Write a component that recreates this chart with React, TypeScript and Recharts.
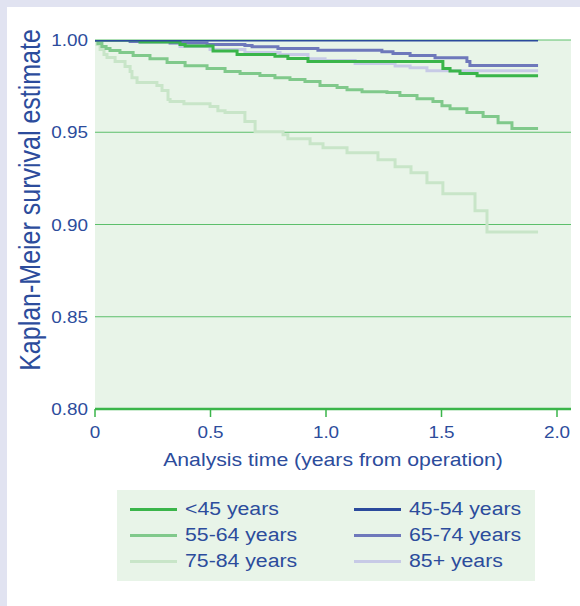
import { LineChart, Line, XAxis, YAxis, CartesianGrid } from 'recharts';

// time in years, survival estimate
const tUnder45 = [0, 0.195, 0.368, 0.39, 0.511, 0.615, 0.779, 0.835, 0.922, 1.506, 1.537, 1.58, 1.654, 1.918];
const sUnder45 = [1, 0.9989, 0.9976, 0.9967, 0.994, 0.9921, 0.9912, 0.99, 0.9883, 0.9845, 0.9832, 0.9818, 0.9806, 0.9806];

const t45to54 = [0, 1.918];
const s45to54 = [1, 1];

const t55to64 = [0, 0.013, 0.03, 0.048, 0.065, 0.108, 0.165, 0.238, 0.312, 0.39, 0.485, 0.563, 0.628, 0.714, 0.779, 0.844, 0.909, 0.974, 1.048, 1.091, 1.156, 1.264, 1.32, 1.394, 1.463, 1.502, 1.537, 1.61, 1.68, 1.745, 1.805, 1.918];
const s55to64 = [1, 0.9981, 0.9965, 0.9954, 0.9943, 0.9932, 0.9916, 0.9899, 0.9878, 0.9861, 0.9845, 0.9829, 0.9818, 0.9807, 0.9796, 0.9786, 0.9775, 0.9753, 0.9742, 0.9731, 0.972, 0.9715, 0.9699, 0.9682, 0.9666, 0.9644, 0.9628, 0.9607, 0.9585, 0.9552, 0.952, 0.952];

const t65to74 = [0, 0.152, 0.325, 0.485, 0.649, 0.68, 0.792, 0.965, 1.242, 1.29, 1.364, 1.472, 1.61, 1.623, 1.918];
const s65to74 = [1, 0.9992, 0.9984, 0.9976, 0.997, 0.9963, 0.9954, 0.9945, 0.9936, 0.9927, 0.9916, 0.9904, 0.9883, 0.9862, 0.9862];

const t75to84 = [0, 0.009, 0.022, 0.039, 0.052, 0.087, 0.13, 0.152, 0.16, 0.182, 0.268, 0.29, 0.316, 0.325, 0.385, 0.498, 0.532, 0.563, 0.649, 0.693, 0.814, 0.835, 0.931, 0.987, 1.091, 1.225, 1.299, 1.368, 1.437, 1.506, 1.645, 1.697, 1.918];
const s75to84 = [1, 0.9976, 0.9948, 0.9921, 0.9905, 0.9883, 0.9856, 0.9829, 0.9796, 0.9769, 0.9753, 0.9726, 0.9677, 0.9666, 0.9655, 0.9639, 0.9617, 0.9607, 0.9558, 0.9503, 0.9487, 0.9465, 0.9438, 0.9416, 0.9389, 0.9351, 0.9313, 0.9281, 0.9226, 0.9167, 0.9074, 0.896, 0.896];

const t85plus = [0, 0.195, 0.368, 0.498, 0.649, 0.801, 0.922, 0.996, 1.126, 1.299, 1.364, 1.437, 1.918];
const s85plus = [1, 0.9986, 0.9965, 0.9948, 0.9932, 0.9921, 0.9899, 0.9889, 0.9872, 0.9859, 0.9849, 0.9834, 0.9834];

const xTicks = [0, 0.5, 1, 1.5, 2];
const yTicks = [0.8, 0.85, 0.9, 0.95, 1];

const TEXT = '#2c4c9c';
const FONT = '"Liberation Sans", Arial, sans-serif';
const STRETCH = 1.18;

const toPoints = (t: number[], s: number[]) => t.map((v, i) => ({ t: v, s: s[i] }));

// drawing order: lightest first, dark blue on top
const series = [
  { name: '75-84 years', color: '#c8e5c8', data: toPoints(t75to84, s75to84) },
  { name: '85+ years', color: '#c7cae6', data: toPoints(t85plus, s85plus) },
  { name: '55-64 years', color: '#80c98b', data: toPoints(t55to64, s55to64) },
  { name: '65-74 years', color: '#6e78bb', data: toPoints(t65to74, s65to74) },
  { name: '<45 years', color: '#3ab54a', data: toPoints(tUnder45, sUnder45) },
  { name: '45-54 years', color: '#2b4a9c', data: toPoints(t45to54, s45to54) },
];

const legendOrder = ['<45 years', '45-54 years', '55-64 years', '65-74 years', '75-84 years', '85+ years'];

const XTick = ({ x, y, payload }: any) => (
  <text
    transform={`translate(${x},${y + 19}) scale(${STRETCH},1)`}
    textAnchor="middle"
    fontSize={16}
    fontFamily={FONT}
    fill={TEXT}
  >
    {payload.value === 0 ? '0' : payload.value.toFixed(1)}
  </text>
);

const YTick = ({ x, y, payload }: any) => (
  <text
    transform={`translate(${x + 1},${y + 6}) scale(${STRETCH},1)`}
    textAnchor="end"
    fontSize={16}
    fontFamily={FONT}
    fill={TEXT}
  >
    {payload.value.toFixed(2)}
  </text>
);

const YLabel = () => (
  <text
    transform={`translate(40,200) rotate(-90) scale(1,${STRETCH})`}
    textAnchor="middle"
    fontSize={25}
    fontFamily={FONT}
    fill={TEXT}
  >
    Kaplan-Meier survival estimate
  </text>
);

const XLabel = () => (
  <text
    transform={`translate(333,466) scale(${STRETCH},1)`}
    textAnchor="middle"
    fontSize={18}
    fontFamily={FONT}
    fill={TEXT}
  >
    Analysis time (years from operation)
  </text>
);

export default function App() {
  const byName = Object.fromEntries(series.map((s) => [s.name, s]));
  return (
    <div style={{ position: 'absolute', left: 0, top: 0, width: 580, height: 606, background: '#e1e3f1' }}>
      <div style={{ position: 'absolute', left: 7, top: 7, width: 573, height: 599, background: '#ffffff' }} />
      <div style={{ position: 'absolute', left: 0, top: 0 }}>
        <LineChart width={580} height={480} margin={{ top: 40, right: 9, bottom: 0, left: 0 }}>
          <CartesianGrid vertical={false} stroke="#5cbf6b" strokeWidth={1} fill="#e8f4e8" fillOpacity={1} />
          <XAxis
            dataKey="t"
            type="number"
            domain={[0, 2.0606]}
            ticks={xTicks}
            height={71}
            axisLine={{ stroke: '#3ab54a', strokeWidth: 2.5 }}
            tickLine={{ stroke: '#3ab54a', strokeWidth: 1.5 }}
            tickSize={8}
            tick={<XTick />}
            label={<XLabel />}
            allowDataOverflow
          />
          <YAxis
            type="number"
            domain={[0.8, 1]}
            ticks={yTicks}
            width={95}
            axisLine={false}
            tickLine={false}
            tick={<YTick />}
            label={<YLabel />}
            allowDataOverflow
          />
          {series.map((s) => (
            <Line
              key={s.name}
              data={s.data}
              dataKey="s"
              type="stepAfter"
              stroke={s.color}
              strokeWidth={3}
              dot={false}
              activeDot={false}
              isAnimationActive={false}
            />
          ))}
        </LineChart>
      </div>
      <div
        style={{
          position: 'absolute',
          left: 117,
          top: 490,
          width: 418,
          height: 91,
          background: '#e8f4e8',
          fontFamily: FONT,
          fontSize: 18,
          color: TEXT,
        }}
      >
        {legendOrder.map((name, i) => {
          const col = i % 2;
          const row = Math.floor(i / 2);
          return (
            <div
              key={name}
              style={{ position: 'absolute', left: col === 0 ? 13 : 237, top: 19 + row * 26 - 11, height: 22, display: 'flex', alignItems: 'center' }}
            >
              <div style={{ width: 47, height: 3, background: byName[name].color }} />
              <span style={{ marginLeft: 8, display: 'inline-block', transform: `scaleX(${STRETCH})`, transformOrigin: 'left center', whiteSpace: 'nowrap' }}>
                {name}
              </span>
            </div>
          );
        })}
      </div>
    </div>
  );
}
